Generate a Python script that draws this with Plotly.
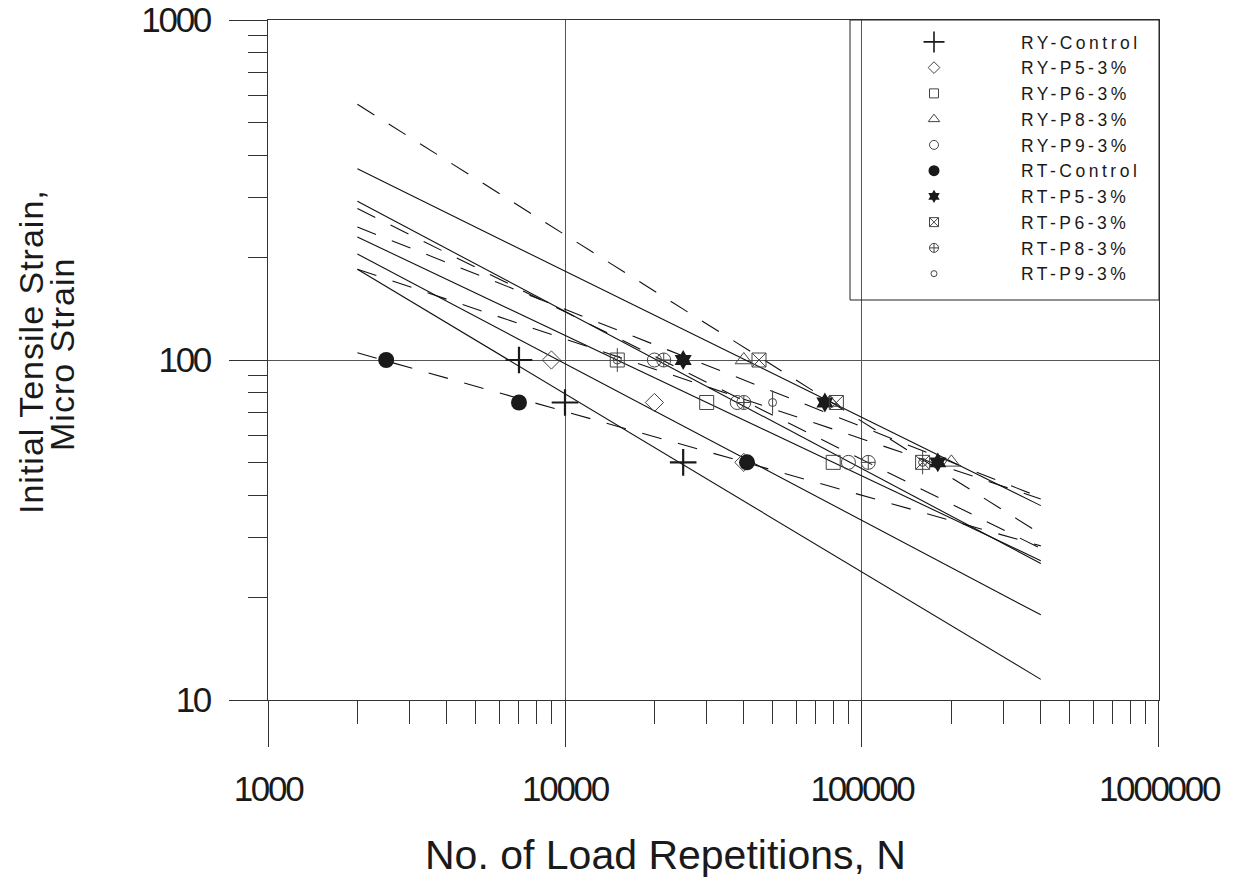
import plotly.graph_objects as go

# ---------------- data ----------------
strain_levels = [100, 75, 50]          # micro strain levels tested

series_names = ["RY-Control", "RY-P5-3%", "RY-P6-3%", "RY-P8-3%", "RY-P9-3%",
                "RT-Control", "RT-P5-3%", "RT-P6-3%", "RT-P8-3%", "RT-P9-3%"]

# load repetitions at 100, 75, 50 micro strain
reps_ry_control = [7000, 10000, 25000]
reps_ry_p5 = [9000, 20000, 40000]
reps_ry_p6 = [15000, 30000, 80000]
reps_ry_p8 = [40000, 78000, 200000]
reps_ry_p9 = [20000, 38000, 90000]
reps_rt_control = [2500, 7000, 41000]
reps_rt_p5 = [25000, 75000, 180000]
reps_rt_p6 = [45000, 82000, 160000]
reps_rt_p8 = [21500, 40000, 105000]
reps_rt_p9 = [15000, 50000, 160000]

# fatigue lines: strain at N = 2000 and N = 400000
fit_n = [2000, 400000]
fit_ry_control = [185, 11.5]
fit_ry_p5 = [205, 17.8]
fit_ry_p6 = [230, 25.7]
fit_ry_p8 = [365, 37.3]
fit_ry_p9 = [293, 25.2]
fit_rt_control = [105, 28.4]
fit_rt_p5 = [246, 39.4]
fit_rt_p6 = [565, 30.8]
fit_rt_p8 = [279, 27.9]
fit_rt_p9 = [185, 39.0]

x_tick_values = [1000, 10000, 100000, 1000000]
y_tick_values = [10, 100, 1000]

reps_all = [reps_ry_control, reps_ry_p5, reps_ry_p6, reps_ry_p8, reps_ry_p9,
            reps_rt_control, reps_rt_p5, reps_rt_p6, reps_rt_p8, reps_rt_p9]
fits_all = [fit_ry_control, fit_ry_p5, fit_ry_p6, fit_ry_p8, fit_ry_p9,
            fit_rt_control, fit_rt_p5, fit_rt_p6, fit_rt_p8, fit_rt_p9]

# ---------------- styles ----------------
DARK = "#1a1a1a"
GREY = "#444444"
# (symbol, plot size, legend size, filled, line width)
marker_styles = [
    ("cross-thin-open", 19, 15, False, 2.2),
    ("diamond-open", 14, 9, False, 1),
    ("square-open", 14, 9, False, 1),
    ("triangle-up-open", 15, 10, False, 1),
    ("circle-open", 14, 9, False, 1),
    ("circle", 16, 11, True, 0),
    ("hexagram", 15, 10, True, 0),
    ("square-x-open", 14, 9, False, 1),
    ("circle-cross-open", 14, 9, False, 1),
    ("circle-open", 8, 6, False, 1),
]
line_dashes = ["solid"] * 5 + ["20px,17px"] * 5

fig = go.Figure()

# fatigue lines
for name, fit, dash in zip(series_names, fits_all, line_dashes):
    fig.add_trace(go.Scatter(
        x=fit_n, y=fit, mode="lines",
        line=dict(color="#111111", width=1.1, dash=dash),
        showlegend=False, hoverinfo="skip", legendgroup=name))

# data markers
for name, reps, st in zip(series_names, reps_all, marker_styles):
    sym, size, lsize, filled, lw = st
    col = DARK if (filled or sym.startswith("cross")) else GREY
    fig.add_trace(go.Scatter(
        x=reps, y=strain_levels, mode="markers", name=name,
        marker=dict(symbol=sym, size=size, color=col,
                    line=dict(color=col, width=lw)),
        showlegend=False, legendgroup=name))
    if name == "RT-P9-3%":
        fig.add_trace(go.Scatter(
            x=reps, y=strain_levels, mode="markers",
            marker=dict(symbol="line-ns-open", size=17, color=GREY,
                        line=dict(color=GREY, width=1)),
            showlegend=False, hoverinfo="skip", legendgroup=name))

# legend entries (legend-only traces with small symbols as in the picture)
for name, st in zip(series_names, marker_styles):
    sym, size, lsize, filled, lw = st
    col = DARK if (filled or sym.startswith("cross")) else GREY
    fig.add_trace(go.Scatter(
        x=[None], y=[None], mode="markers",
        name='<span style="letter-spacing:3.5px">' + name + '</span>',
        marker=dict(symbol=sym, size=lsize, color=col,
                    line=dict(color=col, width=1.6 if sym.startswith("cross") else lw)),
        legendgroup=name, showlegend=True))

# page offset of the plotly div (default body margin)
OFF = 8
FIG_W, FIG_H = 1235 - OFF, 896 - OFF
# plot area in page pixels
PLOT_L, PLOT_R, PLOT_T, PLOT_B = 268, 1159, 20, 700
PW = PLOT_R - PLOT_L
PH = PLOT_B - PLOT_T


def px_x(px):
    return (px - PLOT_L) / PW


def px_y(py):
    return (PLOT_B - py) / PH


def tick_label(v):
    return '<span style="letter-spacing:-2.3px">' + str(v) + '</span>'


tick_font = dict(family="Arial, Liberation Sans, sans-serif", size=35, color=DARK)
title_font = dict(family="Arial, Liberation Sans, sans-serif", size=34, color=DARK)

fig.update_layout(
    width=FIG_W, height=FIG_H,
    margin=dict(l=PLOT_L - OFF, r=FIG_W - (PLOT_R - OFF), t=PLOT_T - OFF,
                b=FIG_H - (PLOT_B - OFF), pad=0, autoexpand=False),
    plot_bgcolor="white", paper_bgcolor="white",
    showlegend=True,
    legend=dict(
        x=px_x(847), xanchor="left", y=px_y(24), yanchor="top",
        bgcolor="rgba(0,0,0,0)", borderwidth=0,
        itemwidth=164, tracegroupgap=0,
        font=dict(family="Arial, Liberation Sans, sans-serif", size=17.5, color=DARK),
    ),
    xaxis=dict(
        type="log", range=[3, 6.00005], automargin=False,
        showline=True, linecolor="#333333", linewidth=1, mirror=True,
        showgrid=True, gridcolor="#555555", gridwidth=1,
        tickmode="array", tickvals=x_tick_values,
        ticktext=[tick_label(v) for v in x_tick_values],
        ticks="outside", ticklen=46, tickwidth=1, tickcolor="#333333",
        ticklabelstandoff=12, ticklabeloverflow="allow",
        tickfont=tick_font,
        minor=dict(ticks="outside", ticklen=23, tickwidth=1, tickcolor="#333333",
                   dtick="D1", showgrid=False),
        zeroline=False,
    ),
    yaxis=dict(
        type="log", range=[1, 3.00005], automargin=False,
        showline=True, linecolor="#333333", linewidth=1, mirror=True,
        showgrid=True, gridcolor="#555555", gridwidth=1,
        tickmode="array", tickvals=y_tick_values,
        ticktext=[tick_label(v) for v in y_tick_values],
        ticks="outside", ticklen=38, tickwidth=1, tickcolor="#333333",
        ticklabelstandoff=12, ticklabeloverflow="allow",
        tickfont=tick_font,
        minor=dict(ticks="outside", ticklen=19, tickwidth=1, tickcolor="#333333",
                   dtick="D1", showgrid=False),
        zeroline=False,
    ),
    shapes=[dict(type="rect", xref="paper", yref="paper",
                 x0=px_x(850), x1=1, y0=px_y(300), y1=1,
                 line=dict(color="#222222", width=1), fillcolor="rgba(0,0,0,0)")],
    annotations=[
        dict(text="No. of Load Repetitions, N", xref="paper", yref="paper",
             x=px_x(665), y=px_y(855), xanchor="center", yanchor="middle",
             showarrow=False,
             font=dict(family="Arial, Liberation Sans, sans-serif", size=41, color=DARK)),
        dict(text='<span style="letter-spacing:1px">Initial Tensile Strain,</span>',
             xref="paper", yref="paper",
             x=px_x(31), y=px_y(352), xanchor="center", yanchor="middle",
             textangle=-90, showarrow=False, font=title_font),
        dict(text='<span style="letter-spacing:1px">Micro Strain</span>',
             xref="paper", yref="paper",
             x=px_x(62), y=px_y(355), xanchor="center", yanchor="middle",
             textangle=-90, showarrow=False, font=title_font),
    ],
)

fig.write_html("out.html")
